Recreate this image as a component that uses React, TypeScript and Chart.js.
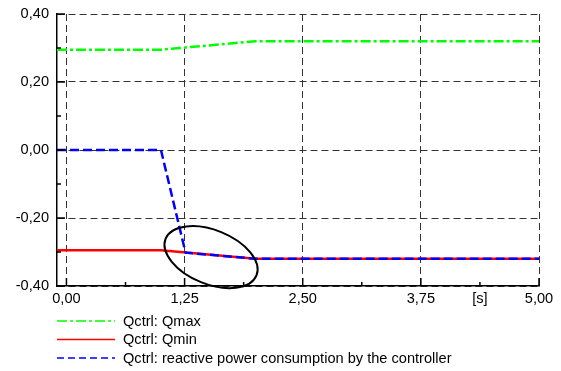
import React, { useEffect, useRef } from "react";
import { Chart, registerables } from "chart.js";

Chart.register(...registerables);

// Data (time in s, values in p.u.)
const qmaxT = [-0.1, 1.0, 2.0, 5.0];
const qmaxV = [0.295, 0.295, 0.32, 0.32];
const qminT = [-0.1, 1.0, 2.0, 5.0];
const qminV = [-0.295, -0.295, -0.32, -0.32];
const qT = [-0.1, 1.0, 1.26, 2.0, 5.0];
const qV = [0.0, 0.0, -0.302, -0.32, -0.32];

const xMajorTicks = [0, 1.25, 2.5, 3.75, 5.0];
const xMinorTicks = [0.625, 1.875, 3.125, 4.375];
const yMajorTicks = [-0.4, -0.2, 0, 0.2, 0.4];
const yMinorTicks = [-0.3, -0.1, 0.1, 0.3];
const xUnitLabel = "[s]";
const xUnitAt = 4.375;

const legendLabels = [
  "Qctrl: Qmax",
  "Qctrl: Qmin",
  "Qctrl: reactive power consumption by the controller",
];

const FONT = "'Liberation Sans', Arial, sans-serif";
const FS = 14.6;

const fmt = (v: number) => v.toFixed(2).replace(".", ",");
const pts = (t: number[], v: number[]) => t.map((x, i) => ({ x, y: v[i] }));

export default function App() {
  const ref = useRef<HTMLCanvasElement | null>(null);

  useEffect(() => {
    if (!ref.current) return;
    const legendStyles = [
      { color: "#00ff00", dash: [10, 3, 3, 3] },
      { color: "#ff0000", dash: [] as number[] },
      { color: "#0000ff", dash: [7, 4] },
    ];

    const decor = {
      id: "decor",
      afterDraw(chart: any) {
        const ctx = chart.ctx as CanvasRenderingContext2D;
        const xs = chart.scales.x;
        const ys = chart.scales.y;
        const a = chart.chartArea;
        ctx.save();
        // inner tick marks
        ctx.strokeStyle = "#000";
        ctx.lineWidth = 1.5;
        ctx.setLineDash([]);
        const tick = (x1: number, y1: number, x2: number, y2: number) => {
          ctx.beginPath();
          ctx.moveTo(x1, y1);
          ctx.lineTo(x2, y2);
          ctx.stroke();
        };
        yMajorTicks.forEach((v) => {
          const y = ys.getPixelForValue(v);
          tick(a.left, y, a.left + 8, y);
        });
        yMinorTicks.forEach((v) => {
          const y = ys.getPixelForValue(v);
          tick(a.left, y, a.left + 4, y);
        });
        xMajorTicks.forEach((v) => {
          const x = xs.getPixelForValue(v);
          tick(x, a.bottom, x, a.bottom - 8);
        });
        xMinorTicks.forEach((v) => {
          const x = xs.getPixelForValue(v);
          tick(x, a.bottom, x, a.bottom - 4);
        });
        // ellipse annotation
        const cx = xs.getPixelForValue(1.53);
        const cy = ys.getPixelForValue(-0.315);
        ctx.lineWidth = 2;
        ctx.strokeStyle = "#000";
        ctx.beginPath();
        ctx.ellipse(cx, cy, 49, 27, (22 * Math.PI) / 180, 0, Math.PI * 2);
        ctx.stroke();
        // legend
        ctx.font = `${FS}px ${FONT}`;
        ctx.textBaseline = "middle";
        ctx.textAlign = "left";
        legendLabels.forEach((label, i) => {
          const y = 321 + i * 18.5;
          const st = legendStyles[i];
          ctx.strokeStyle = st.color;
          ctx.lineWidth = 1.5;
          ctx.setLineDash(st.dash);
          ctx.beginPath();
          ctx.moveTo(57, y);
          ctx.lineTo(115, y);
          ctx.stroke();
          ctx.setLineDash([]);
          ctx.fillStyle = "#000";
          ctx.fillText(label, 123, y + 0.5);
        });
        ctx.restore();
      },
    };

    const chart = new Chart(ref.current, {
      type: "line",
      data: {
        datasets: [
          {
            label: legendLabels[0],
            data: pts(qmaxT, qmaxV),
            borderColor: "#00ff00",
            borderWidth: 2.5,
            borderDash: [10, 3, 3, 3],
            pointRadius: 0,
            tension: 0,
            order: 2,
          },
          {
            label: legendLabels[1],
            data: pts(qminT, qminV),
            borderColor: "#ff0000",
            borderWidth: 2.5,
            pointRadius: 0,
            tension: 0,
            order: 1,
          },
          {
            label: legendLabels[2],
            data: pts(qT, qV),
            borderColor: "#0000ff",
            borderWidth: 2.5,
            borderDash: [9, 4],
            pointRadius: 0,
            tension: 0,
            order: 0,
          },
        ],
      },
      options: {
        responsive: false,
        animation: false,
        layout: { padding: { left: 0, top: 14, right: 22, bottom: 0 } },
        plugins: { legend: { display: false }, tooltip: { enabled: false } },
        scales: {
          x: {
            type: "linear",
            min: -0.1,
            max: 5.0,
            afterBuildTicks: (s: any) => {
              s.ticks = [...xMajorTicks, ...xMinorTicks]
                .sort((p, q) => p - q)
                .map((value) => ({ value }));
            },
            afterFit: (s: any) => {
              s.height = 85;
              s.paddingLeft = 0;
              s.paddingRight = 0;
            },
            ticks: {
              autoSkip: false,
              maxRotation: 0,
              padding: 4,
              color: "#000",
              font: { family: FONT, size: FS },
              callback: (v: any) => {
                const n = Number(v);
                if (xMajorTicks.some((m) => Math.abs(m - n) < 1e-6)) return fmt(n);
                if (Math.abs(n - xUnitAt) < 1e-6) return xUnitLabel;
                return "";
              },
            },
            grid: {
              drawTicks: false,
              lineWidth: 1,
              color: (c: any) =>
                xMajorTicks.some((m) => Math.abs(m - c.tick?.value) < 1e-6) ? "#333" : "rgba(0,0,0,0)",
            },
            border: { display: true, color: "#000", width: 1.5, dash: [7, 4] },
          },
          y: {
            type: "linear",
            min: -0.4,
            max: 0.4,
            afterBuildTicks: (s: any) => {
              s.ticks = [...yMajorTicks, ...yMinorTicks]
                .sort((p, q) => p - q)
                .map((value) => ({ value }));
            },
            afterFit: (s: any) => {
              s.width = 57;
              s.paddingTop = 0;
              s.paddingBottom = 0;
            },
            ticks: {
              autoSkip: false,
              padding: 8,
              color: "#000",
              font: { family: FONT, size: FS },
              callback: (v: any) => {
                const n = Number(v);
                if (yMajorTicks.some((m) => Math.abs(m - n) < 1e-6)) return fmt(n);
                return "";
              },
            },
            grid: {
              drawTicks: false,
              lineWidth: 1,
              color: (c: any) =>
                yMajorTicks.some((m) => Math.abs(m - c.tick?.value) < 1e-6) ? "#333" : "rgba(0,0,0,0)",
            },
            border: { display: true, color: "#000", width: 1.5, dash: [7, 4] },
          },
        },
      },
      plugins: [decor],
    });
    return () => chart.destroy();
  }, []);

  return (
    <div style={{ position: "fixed", left: 0, top: 0, width: 561, height: 371, background: "#fff" }}>
      <canvas ref={ref} width={561} height={371} style={{ width: 561, height: 371, display: "block" }} />
    </div>
  );
}
